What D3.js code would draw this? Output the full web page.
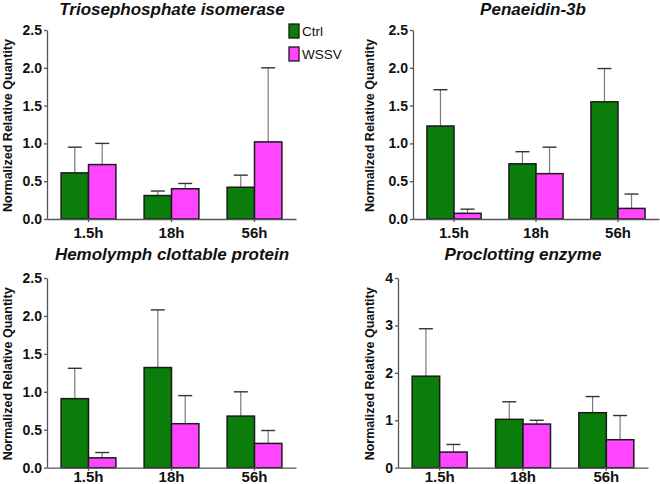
<!DOCTYPE html>
<html>
<head>
<meta charset="utf-8">
<script src="https://cdn.jsdelivr.net/npm/d3@7"></script>
<style>
  body { margin: 0; background: #fff; }
  svg { display: block; font-family: Arial, "Liberation Sans", sans-serif; }
</style>
</head>
<body>
<div id="chart"></div>
<script>
// дані
const timepoints = ["1.5h", "18h", "56h"];
const groups = ["Ctrl", "WSSV"];

const tpiCtrl = [0.61, 0.31, 0.42];
const tpiCtrlErr = [0.95, 0.37, 0.58];
const tpiWssv = [0.72, 0.40, 1.02];
const tpiWssvErr = [1.00, 0.47, 2.00];

const penCtrl = [1.23, 0.73, 1.55];
const penCtrlErr = [1.71, 0.89, 1.99];
const penWssv = [0.075, 0.60, 0.14];
const penWssvErr = [0.13, 0.95, 0.33];

const hcpCtrl = [0.91, 1.32, 0.68];
const hcpCtrlErr = [1.31, 2.08, 1.00];
const hcpWssv = [0.13, 0.58, 0.32];
const hcpWssvErr = [0.20, 0.95, 0.49];

const pceCtrl = [1.93, 1.02, 1.16];
const pceCtrlErr = [2.93, 1.39, 1.50];
const pceWssv = [0.33, 0.92, 0.59];
const pceWssvErr = [0.49, 1.00, 1.10];

const ticks25 = [0, 0.5, 1.0, 1.5, 2.0, 2.5];
const ticks4 = [0, 1, 2, 3, 4];

const colors = {Ctrl: "#0b7d0b", WSSV: "#ff45ff"};
const font = "Arial, 'Liberation Sans', sans-serif";

const svg = d3.select("#chart").append("svg")
    .attr("width", 660)
    .attr("height", 484);

// панелі: розташування осей
const panels = [
    {title: "Triosephosphate isomerase", ctrl: tpiCtrl, ctrlErr: tpiCtrlErr, wssv: tpiWssv, wssvErr: tpiWssvErr,
     x0: 47, x1: 296, yBottom: 219, yTop: 30, max: 2.5, ticks: ticks25, fmt: d3.format(".1f"),
     titleX: 172, titleY: 15, labelX: 12, xPad: 5, legend: true},
    {title: "Penaeidin-3b", ctrl: penCtrl, ctrlErr: penCtrlErr, wssv: penWssv, wssvErr: penWssvErr,
     x0: 413, x1: 659, yBottom: 219, yTop: 30, max: 2.5, ticks: ticks25, fmt: d3.format(".1f"),
     titleX: 533, titleY: 15, labelX: 374, xPad: 5},
    {title: "Hemolymph clottable protein", ctrl: hcpCtrl, ctrlErr: hcpCtrlErr, wssv: hcpWssv, wssvErr: hcpWssvErr,
     x0: 47, x1: 296, yBottom: 467.7, yTop: 278, max: 2.5, ticks: ticks25, fmt: d3.format(".1f"),
     titleX: 172, titleY: 260, labelX: 12, xPad: 1},
    {title: "Proclotting enzyme", ctrl: pceCtrl, ctrlErr: pceCtrlErr, wssv: pceWssv, wssvErr: pceWssvErr,
     x0: 398, x1: 648, yBottom: 467.7, yTop: 278, max: 4, ticks: ticks4, fmt: d3.format("d"),
     titleX: 523, titleY: 260, labelX: 374, xPad: 1}
];

function drawPanel(p) {
    const g = svg.append("g");

    const x = d3.scaleBand().domain(timepoints).range([p.x0, p.x1])
        .paddingInner(0.34).paddingOuter(0.17);
    const xs = d3.scaleBand().domain(groups).range([0, x.bandwidth()]);
    const y = d3.scaleLinear().domain([0, p.max]).range([p.yBottom, p.yTop]);

    const rows = [];
    timepoints.forEach((t, i) => {
        rows.push({t: t, grp: "Ctrl", v: p.ctrl[i], e: p.ctrlErr[i]});
        rows.push({t: t, grp: "WSSV", v: p.wssv[i], e: p.wssvErr[i]});
    });
    const cx = d => x(d.t) + xs(d.grp) + xs.bandwidth() / 2;

    // error bars (лише вгору)
    const eb = g.selectAll(".eb").data(rows).enter().append("g");
    eb.append("line")
        .attr("x1", cx).attr("x2", cx)
        .attr("y1", d => y(d.v))
        .attr("y2", d => y(d.e))
        .attr("stroke", "#7a7a7a").attr("stroke-width", 1.2);
    eb.append("line")
        .attr("x1", d => cx(d) - 7)
        .attr("x2", d => cx(d) + 7)
        .attr("y1", d => y(d.e))
        .attr("y2", d => y(d.e))
        .attr("stroke", "#333").attr("stroke-width", 1.4);

    g.selectAll(".bar").data(rows).enter().append("rect")
        .attr("x", d => x(d.t) + xs(d.grp))
        .attr("y", d => y(d.v))
        .attr("width", xs.bandwidth())
        .attr("height", d => y(0) - y(d.v))
        .attr("fill", d => colors[d.grp])
        .attr("stroke", "#1a1a1a")
        .attr("stroke-width", 1.5);

    // осі
    const yAxis = g.append("g")
        .attr("transform", `translate(${p.x0},0)`)
        .call(d3.axisLeft(y).tickValues(p.ticks).tickFormat(p.fmt).tickSize(3).tickSizeOuter(0).tickPadding(2));
    yAxis.select(".domain").attr("stroke", "#555").attr("stroke-width", 1.3);
    yAxis.selectAll(".tick line").attr("stroke", "#555").attr("stroke-width", 1.3);
    yAxis.selectAll(".tick text").attr("font-size", 14).attr("font-weight", "bold").attr("fill", "#111")
        .attr("font-family", font);

    const xAxis = g.append("g")
        .attr("transform", `translate(0,${p.yBottom})`)
        .call(d3.axisBottom(x).tickSize(3).tickSizeOuter(0).tickPadding(p.xPad));
    xAxis.select(".domain").attr("stroke", "#555").attr("stroke-width", 1.3);
    xAxis.selectAll(".tick line").attr("stroke", "#555").attr("stroke-width", 1.3);
    xAxis.selectAll(".tick text").attr("font-size", 15).attr("font-weight", "bold").attr("fill", "#111")
        .attr("font-family", font);

    // заголовок
    g.append("text")
        .attr("x", p.titleX).attr("y", p.titleY)
        .attr("text-anchor", "middle")
        .attr("font-size", 17).attr("font-weight", "bold").attr("font-style", "italic")
        .attr("fill", "#111")
        .text(p.title);

    // підпис осі Y
    const midY = (p.yBottom + p.yTop) / 2 + 1;
    g.append("text")
        .attr("transform", `translate(${p.labelX},${midY}) rotate(-90)`)
        .attr("text-anchor", "middle")
        .attr("font-size", 12.5).attr("font-weight", "bold")
        .attr("fill", "#111")
        .text("Normalized Relative Quantity");

    if (p.legend) {
        const lg = g.append("g").attr("transform", "translate(289,24)");
        groups.forEach((grp, i) => {
            lg.append("rect")
                .attr("x", 0).attr("y", i * 23)
                .attr("width", 10).attr("height", 14)
                .attr("fill", colors[grp])
                .attr("stroke", "#1a1a1a").attr("stroke-width", 1.3);
            lg.append("text")
                .attr("x", 13).attr("y", i * 23 + 12)
                .attr("font-size", 13.5).attr("fill", "#111")
                .text(grp);
        });
    }
}

panels.forEach(drawPanel);
</script>
</body>
</html>
